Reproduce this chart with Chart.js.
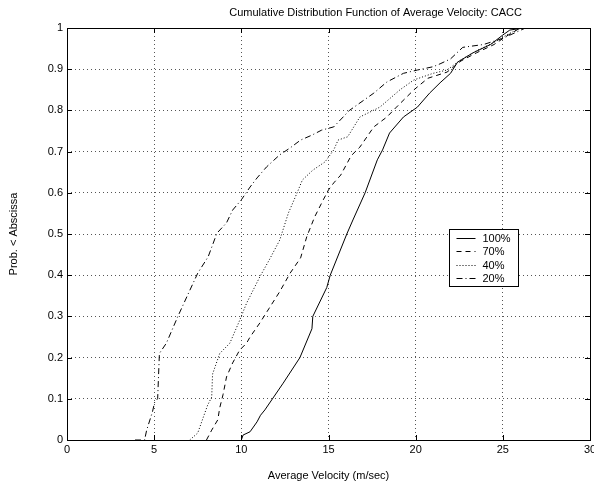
<!DOCTYPE html>
<html lang="en">
<head>
    <meta charset="UTF-8">
    <title>Cumulative Distribution Function of Average Velocity: CACC</title>
    <script src="https://cdn.jsdelivr.net/npm/chart.js"></script>
    <style>
        html, body {
            margin: 0;
            padding: 0;
            background: #ffffff;
        }

        #wrap {
            position: relative;
            width: 594px;
            height: 485px;
        }
    </style>
</head>
<body>
    <div id="wrap">
        <canvas id="cdfChart" width="594" height="485"></canvas>
    </div>

    <script>
        // values
        const chartTitle = 'Cumulative Distribution Function of Average Velocity: CACC';
        const seriesLabels = ['100%', '70%', '40%', '20%'];

        const v100 = [10.0, 10.1, 10.5, 10.9, 11.1, 11.35, 12.4, 13.36, 14.05, 14.1, 14.9, 15.1, 16.05, 16.4, 17.1, 17.8, 18.1, 18.5, 19.3, 20.1, 20.8, 21.4, 22.0, 22.4, 23.3, 24.3, 25.0, 25.4, 26.2];
        const p100 = [0, 0.012, 0.02, 0.044, 0.06, 0.073, 0.138, 0.2, 0.27, 0.30, 0.37, 0.40, 0.50, 0.534, 0.6, 0.68, 0.704, 0.745, 0.784, 0.808, 0.842, 0.867, 0.89, 0.917, 0.94, 0.96, 0.983, 0.995, 1.0];

        const v70 = [8.0, 8.3, 8.65, 8.76, 8.95, 9.15, 9.5, 9.9, 10.3, 10.5, 11.06, 11.6, 12.2, 12.8, 13.4, 13.75, 14.2, 14.7, 15.0, 15.3, 15.7, 16.3, 16.8, 17.6, 18.35, 18.9, 19.9, 20.7, 21.8, 22.6, 23.5, 24.5, 25.2, 26.0];
        const p70 = [0, 0.024, 0.049, 0.078, 0.11, 0.153, 0.187, 0.218, 0.235, 0.25, 0.284, 0.32, 0.36, 0.405, 0.442, 0.493, 0.541, 0.583, 0.607, 0.624, 0.643, 0.69, 0.711, 0.76, 0.784, 0.808, 0.85, 0.878, 0.893, 0.92, 0.94, 0.96, 0.98, 1.0];

        const v40 = [7.04, 7.5, 7.8, 8.07, 8.3, 8.35, 8.76, 9.34, 9.9, 10.3, 11.06, 11.6, 12.2, 12.7, 13.2, 13.5, 14.1, 14.8, 15.3, 15.55, 16.1, 16.8, 17.95, 19.1, 19.9, 21.0, 21.8, 22.5, 23.5, 24.5, 25.3, 26.0];
        const p40 = [0, 0.017, 0.053, 0.085, 0.104, 0.16, 0.21, 0.235, 0.29, 0.332, 0.396, 0.437, 0.485, 0.551, 0.6, 0.631, 0.655, 0.675, 0.704, 0.728, 0.736, 0.784, 0.808, 0.85, 0.874, 0.89, 0.898, 0.92, 0.945, 0.965, 0.985, 1.0];

        const v20 = [3.9, 4.45, 4.57, 4.9, 5.03, 5.2, 5.3, 5.7, 6.36, 6.9, 7.5, 8.1, 8.6, 9.15, 9.5, 10.0, 10.5, 10.9, 11.45, 12.2, 12.8, 13.4, 14.05, 14.6, 15.3, 16.2, 17.6, 18.35, 19.3, 20.1, 21.0, 21.4, 22.0, 22.7, 23.9, 25.0, 26.3];
        const p20 = [0, 0, 0.024, 0.068, 0.092, 0.10, 0.21, 0.235, 0.30, 0.35, 0.405, 0.445, 0.502, 0.527, 0.558, 0.583, 0.614, 0.636, 0.663, 0.692, 0.709, 0.728, 0.74, 0.752, 0.76, 0.80, 0.842, 0.869, 0.89, 0.898, 0.906, 0.913, 0.925, 0.953, 0.96, 0.975, 1.0];

        const xTicks = [0, 5, 10, 15, 20, 25, 30];
        const yTicks = [0, 0.1, 0.2, 0.3, 0.4, 0.5, 0.6, 0.7, 0.8, 0.9, 1];

        const FONT = "'Liberation Sans', Arial, Helvetica, sans-serif";
        const dashes = [[], [5, 4], [1, 2], [6, 3, 1, 3]];

        function toPoints(xs, ys) {
            return xs.map((x, i) => ({ x: x, y: ys[i] }));
        }

        const allX = [v100, v70, v40, v20];
        const allY = [p100, p70, p40, p20];

        // axes box, inward tick marks, title and legend, matlab style
        const boxPlugin = {
            id: 'boxPlugin',
            afterDatasetsDraw(chart) {
                const { ctx, chartArea: a, scales } = chart;
                ctx.save();
                ctx.strokeStyle = '#000';
                ctx.lineWidth = 1;
                ctx.setLineDash([]);
                ctx.beginPath();
                xTicks.forEach(t => {
                    const px = Math.round(scales.x.getPixelForValue(t)) + 0.5;
                    ctx.moveTo(px, a.bottom); ctx.lineTo(px, a.bottom - 5);
                    ctx.moveTo(px, a.top); ctx.lineTo(px, a.top + 5);
                });
                yTicks.forEach(t => {
                    const py = Math.round(scales.y.getPixelForValue(t)) + 0.5;
                    ctx.moveTo(a.left, py); ctx.lineTo(a.left + 5, py);
                    ctx.moveTo(a.right, py); ctx.lineTo(a.right - 5, py);
                });
                ctx.stroke();
                ctx.strokeRect(Math.round(a.left) + 0.5, Math.round(a.top) + 0.5,
                               Math.round(a.width), Math.round(a.height));
                ctx.restore();
            },
            afterDraw(chart) {
                const { ctx, chartArea: a } = chart;
                ctx.save();
                ctx.fillStyle = '#000';
                ctx.font = '11px ' + FONT;
                ctx.textAlign = 'center';
                ctx.textBaseline = 'middle';
                ctx.fillText(chartTitle, a.left + a.width * 0.59, 13);

                // legend box inside the axes
                const bx = Math.round(a.left + a.width * 0.731) + 0.5;
                const by = Math.round(a.top + a.height * 0.488) + 0.5;
                const bw = 69, bh = 57;
                ctx.fillStyle = '#fff';
                ctx.fillRect(bx, by, bw, bh);
                ctx.strokeStyle = '#000';
                ctx.lineWidth = 1;
                ctx.strokeRect(bx, by, bw, bh);
                ctx.textAlign = 'left';
                ctx.fillStyle = '#000';
                seriesLabels.forEach((lab, i) => {
                    const yy = Math.round(by + 8 + i * 13.6) + 0.5;
                    ctx.beginPath();
                    ctx.setLineDash(dashes[i]);
                    ctx.moveTo(bx + 7, yy);
                    ctx.lineTo(bx + 26, yy);
                    ctx.stroke();
                    ctx.setLineDash([]);
                    ctx.fillText(lab, bx + 33, yy);
                });
                ctx.restore();
            }
        };

        const ctx = document.getElementById('cdfChart').getContext('2d');
        new Chart(ctx, {
            type: 'line',
            data: {
                datasets: seriesLabels.map((lab, i) => ({
                    label: lab,
                    data: toPoints(allX[i], allY[i]),
                    borderColor: '#000',
                    borderWidth: 1,
                    borderDash: dashes[i],
                    pointRadius: 0,
                    tension: 0,
                    fill: false
                }))
            },
            options: {
                responsive: false,
                animation: false,
                events: [],
                layout: { padding: { left: 0, right: 4, top: 28, bottom: 0 } },
                plugins: {
                    legend: { display: false },
                    tooltip: { enabled: false },
                    title: { display: false }
                },
                scales: {
                    x: {
                        type: 'linear',
                        min: 0,
                        max: 30,
                        afterBuildTicks: s => { s.ticks = xTicks.map(v => ({ value: v })); },
                        afterFit: s => { s.height = 45; s.paddingLeft = 0; s.paddingRight = 0; },
                        ticks: {
                            color: '#000',
                            padding: 3,
                            maxRotation: 0,
                            font: { family: FONT, size: 11 }
                        },
                        grid: { color: '#555', lineWidth: 1, drawTicks: false },
                        border: { display: false, dash: [1, 3] },
                        title: {
                            display: true,
                            text: 'Average Velocity (m/sec)',
                            color: '#000',
                            font: { family: FONT, size: 11 },
                            padding: { top: 0, bottom: 2 }
                        }
                    },
                    y: {
                        min: 0,
                        max: 1,
                        afterBuildTicks: s => { s.ticks = yTicks.map(v => ({ value: v })); },
                        afterFit: s => { s.width = 67; s.paddingTop = 0; s.paddingBottom = 0; },
                        ticks: {
                            color: '#000',
                            padding: 4,
                            font: { family: FONT, size: 11 },
                            callback: v => String(Math.round(v * 10) / 10)
                        },
                        grid: { color: '#555', lineWidth: 1, drawTicks: false },
                        border: { display: false, dash: [1, 3] },
                        title: {
                            display: true,
                            text: 'Prob. < Abscissa',
                            color: '#000',
                            font: { family: FONT, size: 11 },
                            padding: { top: 7, bottom: 0 }
                        }
                    }
                }
            },
            plugins: [boxPlugin]
        });
    </script>
</body>
</html>
